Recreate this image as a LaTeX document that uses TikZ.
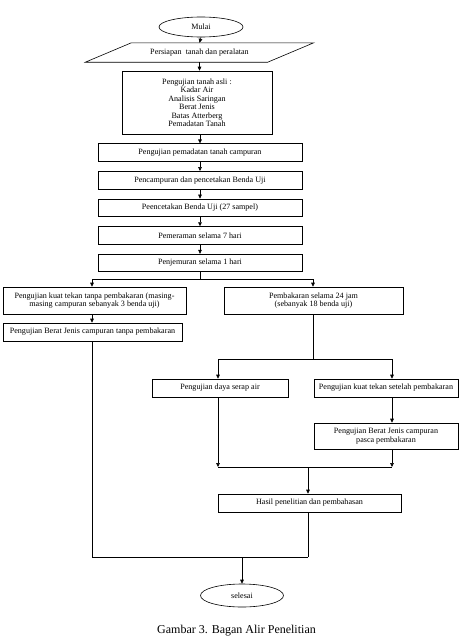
\documentclass[tikz,border=0pt]{standalone}
\usepackage{fontspec}
\setmainfont{Liberation Serif}
\usetikzlibrary{shapes.geometric,arrows.meta,positioning}

\tikzset{
  proses/.style={rectangle, draw, line width=0.6pt, inner sep=1pt,
    align=center, font=\fontsize{8.1}{8.5}\selectfont},
  terminal/.style={ellipse, draw, line width=0.6pt, inner sep=0pt,
    font=\fontsize{8.1}{8.5}\selectfont},
  alur/.style={-{Triangle[length=4pt,width=3.6pt]}, line width=0.6pt},
  garis/.style={line width=0.6pt}
}

\begin{document}
\begin{tikzpicture}[x=1pt,y=-1pt]
  \useasboundingbox (0,0) rectangle (459,637);

  \node[terminal, minimum width=84pt, minimum height=20pt] (mulai) at (201,27) {Mulai};

  \node[font=\fontsize{8.1}{8.5}\selectfont,
  minimum width=182pt,
  minimum height=19pt,
  inner sep=0pt] (persiapan) at (199.5,52.5) {Persiapan\ \ tanah dan peralatan};
  \draw[garis] ([xshift=-23pt]persiapan.south west) -- ([xshift=-23pt]persiapan.south east)
    -- ([xshift=23pt]persiapan.north east) -- ([xshift=23pt]persiapan.north west) -- cycle;

  \node[proses, minimum width=150pt, minimum height=63pt] (asli) at (197,102.5)
    {Pengujian tanah asli :\\Kadar Air\\Analisis Saringan\\Berat Jenis\\Batas Atterberg\\Pemadatan Tanah};

  \node[proses, minimum width=204pt, minimum height=17.5pt] (campuran) at (200,152.5)
    {Pengujian pemadatan tanah campuran};
  \node[proses, minimum width=204pt, minimum height=17.5pt, below=9.5pt of campuran] (cetak)
    {Pencampuran dan pencetakan Benda Uji};
  \node[proses, minimum width=204pt, minimum height=17.5pt, below=9.5pt of cetak] (sampel)
    {Peencetakan Benda Uji (27 sampel)};
  \node[proses, minimum width=204pt, minimum height=17.5pt, below=9.5pt of sampel] (peram)
    {Pemeraman selama 7 hari};
  \node[proses, minimum width=204pt, minimum height=17.5pt, below=9.5pt of peram] (jemur)
    {Penjemuran selama 1 hari};

  \node[proses, minimum width=183pt, minimum height=27pt] (tanpabakar) at (94.5,300.5)
    {Pengujian kuat tekan tanpa pembakaran (masing-\\masing campuran sebanyak 3 benda uji)};
  \node[proses, minimum width=179pt, minimum height=27pt] (bakar) at (313.5,300.5)
    {Pembakaran selama 24 jam\\(sebanyak 18 benda uji)};
  \node[proses, minimum width=179pt, minimum height=18pt] (bjtanpa) at (92.5,332)
    {Pengujian Berat Jenis campuran tanpa pembakaran};

  \node[proses, minimum width=136pt, minimum height=18pt] (serap) at (220,388)
    {Pengujian daya serap air};
  \node[proses, minimum width=144pt, minimum height=18pt] (ktbakar) at (386,388)
    {Pengujian kuat tekan setelah pembakaran};
  \node[proses, minimum width=144pt, minimum height=26pt] (bjpasca) at (386,436)
    {Pengujian Berat Jenis campuran\\pasca pembakaran};

  \node[proses, minimum width=183pt, minimum height=18pt] (hasil) at (309.5,503)
    {Hasil penelitian dan pembahasan};

  \node[terminal, minimum width=83pt, minimum height=23pt] (selesai) at (242,595.5) {selesai};

  \node[font=\fontsize{12}{14}\selectfont, inner sep=0pt] (judul) at (236.5,631)
    {Gambar 3. Bagan Alir Penelitian};

  % titik belok
  \coordinate (kiri) at (92,279);
  \coordinate (kanan) at (313,279);
  \coordinate (serapatas) at (218,359);
  \coordinate (ktatas) at (392,359);
  \coordinate (serapbawah) at (218,467);
  \coordinate (bjbawah) at (392,467);
  \coordinate (tengah) at (308,467);
  \coordinate (bawahkiri) at (92,557);
  \coordinate (bawahkanan) at (308,557);
  \coordinate (keselesai) at (242,557);

  \draw[alur] (mulai.south) -- (persiapan.north);
  \draw[alur] (persiapan.south) -- (persiapan.south |- asli.north);
  \draw[alur] (asli.south -| campuran) -- (campuran.north);
  \draw[alur] (campuran) -- (cetak);
  \draw[alur] (cetak) -- (sampel);
  \draw[alur] (sampel) -- (peram);
  \draw[alur] (peram) -- (jemur);

  \draw[garis] (jemur.south) -- (jemur.south |- kiri);
  \draw[garis] (kiri) -- (kanan);
  \draw[alur] (kiri) -- (kiri |- tanpabakar.north);
  \draw[alur] (kanan) -- (kanan |- bakar.north);
  \draw[alur] (kiri |- tanpabakar.south) -- (kiri |- bjtanpa.north);
  \draw[garis] (kiri |- bjtanpa.south) -- (bawahkiri) -- (bawahkanan);

  \draw[garis] (kanan |- bakar.south) -- (kanan |- serapatas);
  \draw[garis] (serapatas) -- (ktatas);
  \draw[alur] (serapatas) -- (serapatas |- serap.north);
  \draw[alur] (ktatas) -- (ktatas |- ktbakar.north);
  \draw[alur] (ktatas |- ktbakar.south) -- (ktatas |- bjpasca.north);
  \draw[alur] (serapatas |- serap.south) -- (serapbawah);
  \draw[alur] (ktatas |- bjpasca.south) -- (bjbawah);
  \draw[garis] (serapbawah) -- (bjbawah);
  \draw[alur] (tengah) -- (tengah |- hasil.north);
  \draw[garis] (tengah |- hasil.south) -- (bawahkanan);
  \draw[alur] (keselesai) -- (selesai.north);
\end{tikzpicture}
\end{document}
